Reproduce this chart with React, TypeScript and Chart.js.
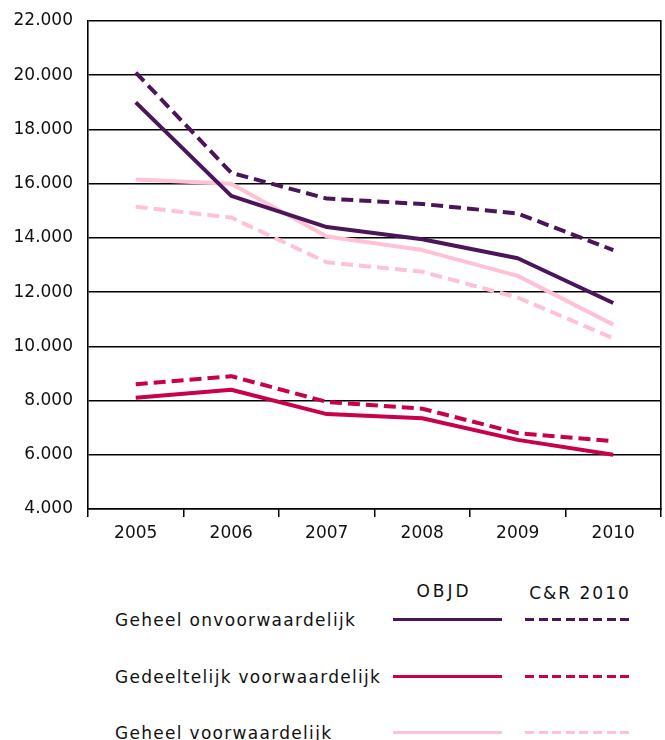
import React, { useEffect, useRef } from "react";
import { Chart, registerables } from "chart.js";

Chart.register(...registerables);

const years = ["2005", "2006", "2007", "2008", "2009", "2010"];
const objdGeheelOnv = [19000, 15550, 14400, 13950, 13250, 11600];
const crGeheelOnv = [20100, 16400, 15450, 15250, 14900, 13550];
const objdGedeeltelijk = [8100, 8400, 7500, 7350, 6550, 6000];
const crGedeeltelijk = [8600, 8900, 7950, 7700, 6800, 6500];
const objdGeheelVw = [16150, 16000, 14050, 13550, 12600, 10800];
const crGeheelVw = [15150, 14750, 13100, 12750, 11800, 10300];

const yMin = 4000;
const yMax = 22000;
const yStep = 2000;

const legendRows = ["Geheel onvoorwaardelijk", "Gedeeltelijk voorwaardelijk", "Geheel voorwaardelijk"];
const legendHeaders = ["OBJD", "C&R 2010"];

const PURPLE = "#4b1559";
const CRIMSON = "#c9004c";
const PINK = "#ffc2d4";
const rowColors = [PURPLE, CRIMSON, PINK];

const FONT = "'DejaVu Sans', Verdana, sans-serif";
const DASH = [12, 6];

function fmt(v: number): string {
  return String(Math.round(v)).replace(/\B(?=(\d{3})+(?!\d))/g, ".");
}

export default function App() {
  const ref = useRef<HTMLCanvasElement | null>(null);

  useEffect(() => {
    if (!ref.current) return;
    const mk = (label: string, data: number[], color: string, dashed: boolean) => ({
      label,
      data,
      borderColor: color,
      backgroundColor: color,
      borderWidth: 4,
      borderDash: dashed ? DASH : [],
      pointRadius: 0,
      tension: 0,
      fill: false,
      borderJoinStyle: "round" as const,
      yAxisID: "y",
    });
    const chart = new Chart(ref.current, {
      type: "line",
      data: {
        labels: years,
        datasets: [
          mk("Geheel voorwaardelijk C&R 2010", crGeheelVw, PINK, true),
          mk("Gedeeltelijk voorwaardelijk C&R 2010", crGedeeltelijk, CRIMSON, true),
          mk("Gedeeltelijk voorwaardelijk OBJD", objdGedeeltelijk, CRIMSON, false),
          mk("Geheel onvoorwaardelijk C&R 2010", crGeheelOnv, PURPLE, true),
          mk("Geheel onvoorwaardelijk OBJD", objdGeheelOnv, PURPLE, false),
          mk("Geheel voorwaardelijk OBJD", objdGeheelVw, PINK, false),
        ],
      },
      options: {
        responsive: false,
        animation: false,
        layout: { padding: { left: 0, right: 4, top: 21, bottom: 0 } },
        plugins: { legend: { display: false }, tooltip: { enabled: false } },
        scales: {
          x: {
            offset: true,
            grid: {
              offset: true,
              drawOnChartArea: false,
              drawTicks: true,
              tickLength: 8,
              color: "#000",
              lineWidth: 1.5,
            },
            border: { display: true, color: "#000", width: 1.5 },
            ticks: { font: { family: FONT, size: 17 }, color: "#111", padding: 6 },
            afterFit: (s: any) => {
              s.height = 36;
              s.paddingLeft = 0;
              s.paddingRight = 0;
            },
          },
          y: {
            min: yMin,
            max: yMax,
            grid: { color: "#000", lineWidth: 1.6, drawTicks: false, tickLength: 0 },
            border: { display: true, color: "#000", width: 1.6 },
            ticks: {
              stepSize: yStep,
              font: { family: FONT, size: 17 },
              color: "#111",
              padding: 15,
              callback: (v: any) => fmt(Number(v)),
            },
            afterFit: (s: any) => {
              s.width = 88;
              s.paddingTop = 0;
              s.paddingBottom = 0;
            },
          },
          y2: {
            position: "right",
            display: true,
            grid: { display: false },
            border: { display: true, color: "#000", width: 1.6 },
            ticks: { display: false },
            afterFit: (s: any) => {
              s.width = 0;
              s.paddingTop = 0;
              s.paddingBottom = 0;
            },
          },
        },
      },
    });
    return () => chart.destroy();
  }, []);

  const rowY = [620, 677, 733];
  const textStyle: React.CSSProperties = {
    position: "absolute",
    fontFamily: FONT,
    fontSize: 17,
    letterSpacing: "1.3px",
    color: "#111",
    lineHeight: "20px",
    whiteSpace: "nowrap",
  };

  return (
    <div style={{ position: "absolute", left: 0, top: 0, width: 665, height: 740, background: "#fff", overflow: "hidden" }}>
      <canvas ref={ref} width={665} height={545} style={{ position: "absolute", left: 0, top: 0, width: 665, height: 545 }} />
      <div style={{ ...textStyle, left: 394, width: 100, top: 581, textAlign: "center", letterSpacing: "3px" }}>
        {legendHeaders[0]}
      </div>
      <div style={{ ...textStyle, left: 521, width: 118, top: 583, textAlign: "center", letterSpacing: "2px" }}>
        {legendHeaders[1]}
      </div>
      {legendRows.map((r, i) => (
        <React.Fragment key={r}>
          <div style={{ ...textStyle, left: 115, top: rowY[i] - 10 }}>{r}</div>
          <div
            style={{
              position: "absolute",
              left: 393,
              width: 109,
              top: rowY[i] - 2,
              height: 3,
              background: rowColors[i],
            }}
          />
          <div
            style={{
              position: "absolute",
              left: 525,
              width: 108,
              top: rowY[i] - 2,
              height: 3,
              background: `repeating-linear-gradient(to right, ${rowColors[i]} 0px, ${rowColors[i]} 9px, transparent 9px, transparent 13.6px)`,
            }}
          />
        </React.Fragment>
      ))}
    </div>
  );
}
